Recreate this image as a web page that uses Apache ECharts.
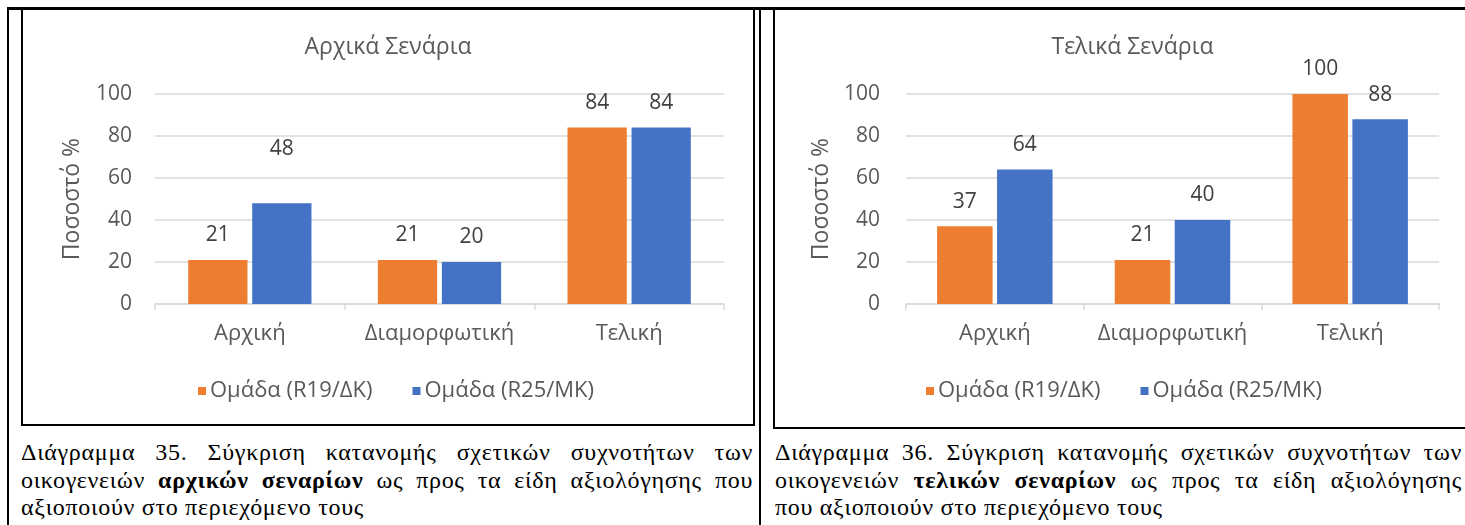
<!DOCTYPE html>
<html>
<head>
<meta charset="utf-8">
<script src="https://cdn.jsdelivr.net/npm/echarts@6/dist/echarts.min.js"></script>
<style>
  html, body { margin: 0; padding: 0; background: #fff; width: 1465px; height: 525px; overflow: hidden; }
  .rule { position: absolute; background: #000; }
  .box { position: absolute; box-sizing: border-box; border: 2px solid #000; background: #fff; }
  .chart { width: 100%; height: 100%; }
  .caption { position: absolute; font-family: "Liberation Serif", "Times New Roman", "DejaVu Serif", serif; font-size: 24px; letter-spacing: 0.7px; color: #000; line-height: 27.6px; }
  .caption div { text-align: justify; text-align-last: justify; white-space: nowrap; }
  .caption div.last { text-align-last: left; }
</style>
</head>
<body>
<!-- table frame -->
<div class="rule" style="left:7px; top:7px; width:1458px; height:3px;"></div>
<div class="rule" style="left:7px; top:7px; width:2px; height:518px;"></div>
<div class="rule" style="left:759px; top:7px; width:2px; height:518px;"></div>

<div class="box" style="left:21px; top:8px; width:734px; height:418px;"><div id="c1" class="chart"></div></div>
<div class="box" style="left:773px; top:8px; width:719px; height:421px;"><div id="c2" class="chart"></div></div>

<div class="caption" style="left:21px; top:439px; width:732px;">
  <div>Διάγραμμα 35. Σύγκριση κατανομής σχετικών συχνοτήτων των</div>
  <div>οικογενειών <b>αρχικών σεναρίων</b> ως προς τα είδη αξιολόγησης που</div>
  <div class="last">αξιοποιούν στο περιεχόμενο τους</div>
</div>
<div class="caption" style="left:775px; top:439px; width:687px;">
  <div>Διάγραμμα 36. Σύγκριση κατανομής σχετικών συχνοτήτων των</div>
  <div>οικογενειών <b>τελικών σεναρίων</b> ως προς τα είδη αξιολόγησης</div>
  <div class="last">που αξιοποιούν στο περιεχόμενο τους</div>
</div>

<script>
// Assessment types on the category axis
const categories = ['Αρχική', 'Διαμορφωτική', 'Τελική'];
// Series names
const seriesNames = ['Ομάδα (R19/ΔΚ)', 'Ομάδα (R25/ΜΚ)'];
// Initial scenarios (%)
const initialR19 = [21, 21, 84];
const initialR25 = [48, 20, 84];
// Final scenarios (%)
const finalR19 = [37, 21, 100];
const finalR25 = [64, 40, 88];
// Value axis
const yMin = 0, yMax = 100, yStep = 20;

const FONT = '"Open Sans", "Noto Sans", sans-serif';
const COLORS = ['#ED7D31', '#4472C4'];
const GREY = '#595959';
const LINE = '#D9D9D9';

function seriesData(values, raised) {
  // raised: indexes whose value label sits further above the bar
  return values.map((v, i) => raised.includes(i) ? { value: v, label: { distance: 44 } } : v);
}

function buildOption(title, r19, r25, g, raised) {
  const mkSeries = (name, vals, color, rz) => ({
    name: name,
    type: 'bar',
    data: seriesData(vals, rz),
    itemStyle: { color: color },
    barGap: '8%',
    barCategoryGap: '35%',
    label: { show: true, position: 'top', distance: 14, color: '#404040', fontSize: 21, fontFamily: FONT },
    emphasis: { disabled: true }
  });
  return {
    animation: false,
    textStyle: { fontFamily: FONT },
    title: {
      text: title, left: 'center', top: 21,
      textStyle: { color: GREY, fontSize: 23, fontWeight: 'normal', fontFamily: FONT }
    },
    legend: {
      left: g.legendLeft, top: g.legendTop, itemGap: 40, itemWidth: 8, itemHeight: 8, icon: 'rect',
      textStyle: { color: GREY, fontSize: 22, fontFamily: FONT, padding: [0, 0, 0, -1] },
      data: seriesNames
    },
    grid: { left: g.left, right: g.right, top: 84, bottom: g.bottom, containLabel: false },
    xAxis: {
      type: 'category', data: categories,
      axisLine: { lineStyle: { color: LINE, width: 1.5 } },
      axisTick: { show: true, length: 6, lineStyle: { color: LINE, width: 1.5 } },
      axisLabel: { color: GREY, fontSize: 22, margin: 19, interval: 0, hideOverlap: false, fontFamily: FONT }
    },
    yAxis: {
      type: 'value', min: yMin, max: yMax, interval: yStep,
      name: 'Ποσοστό %', nameLocation: 'middle', nameGap: g.nameGap,
      nameTextStyle: { color: GREY, fontSize: 23, fontFamily: FONT },
      axisLine: { show: false }, axisTick: { show: false },
      axisLabel: { color: GREY, fontSize: 21, margin: g.labelMargin, fontFamily: FONT },
      splitLine: { lineStyle: { color: LINE, width: 1.5 } }
    },
    series: [
      mkSeries(seriesNames[0], r19, COLORS[0], raised[0]),
      mkSeries(seriesNames[1], r25, COLORS[1], raised[1])
    ]
  };
}

const c1 = echarts.init(document.getElementById('c1'), null, { renderer: 'canvas' });
c1.setOption(buildOption('Αρχικά Σενάρια', initialR19, initialR25,
  { left: 132, right: 29, bottom: 120, nameGap: 71, labelMargin: 23, legendLeft: 170, legendTop: 365 },
  [[], [0]]));

const c2 = echarts.init(document.getElementById('c2'), null, { renderer: 'canvas' });
c2.setOption(buildOption('Τελικά Σενάρια', finalR19, finalR25,
  { left: 131, right: 51, bottom: 123, nameGap: 69, labelMargin: 26, legendLeft: 146, legendTop: 365 },
  [[], []]));
</script>
</body>
</html>
